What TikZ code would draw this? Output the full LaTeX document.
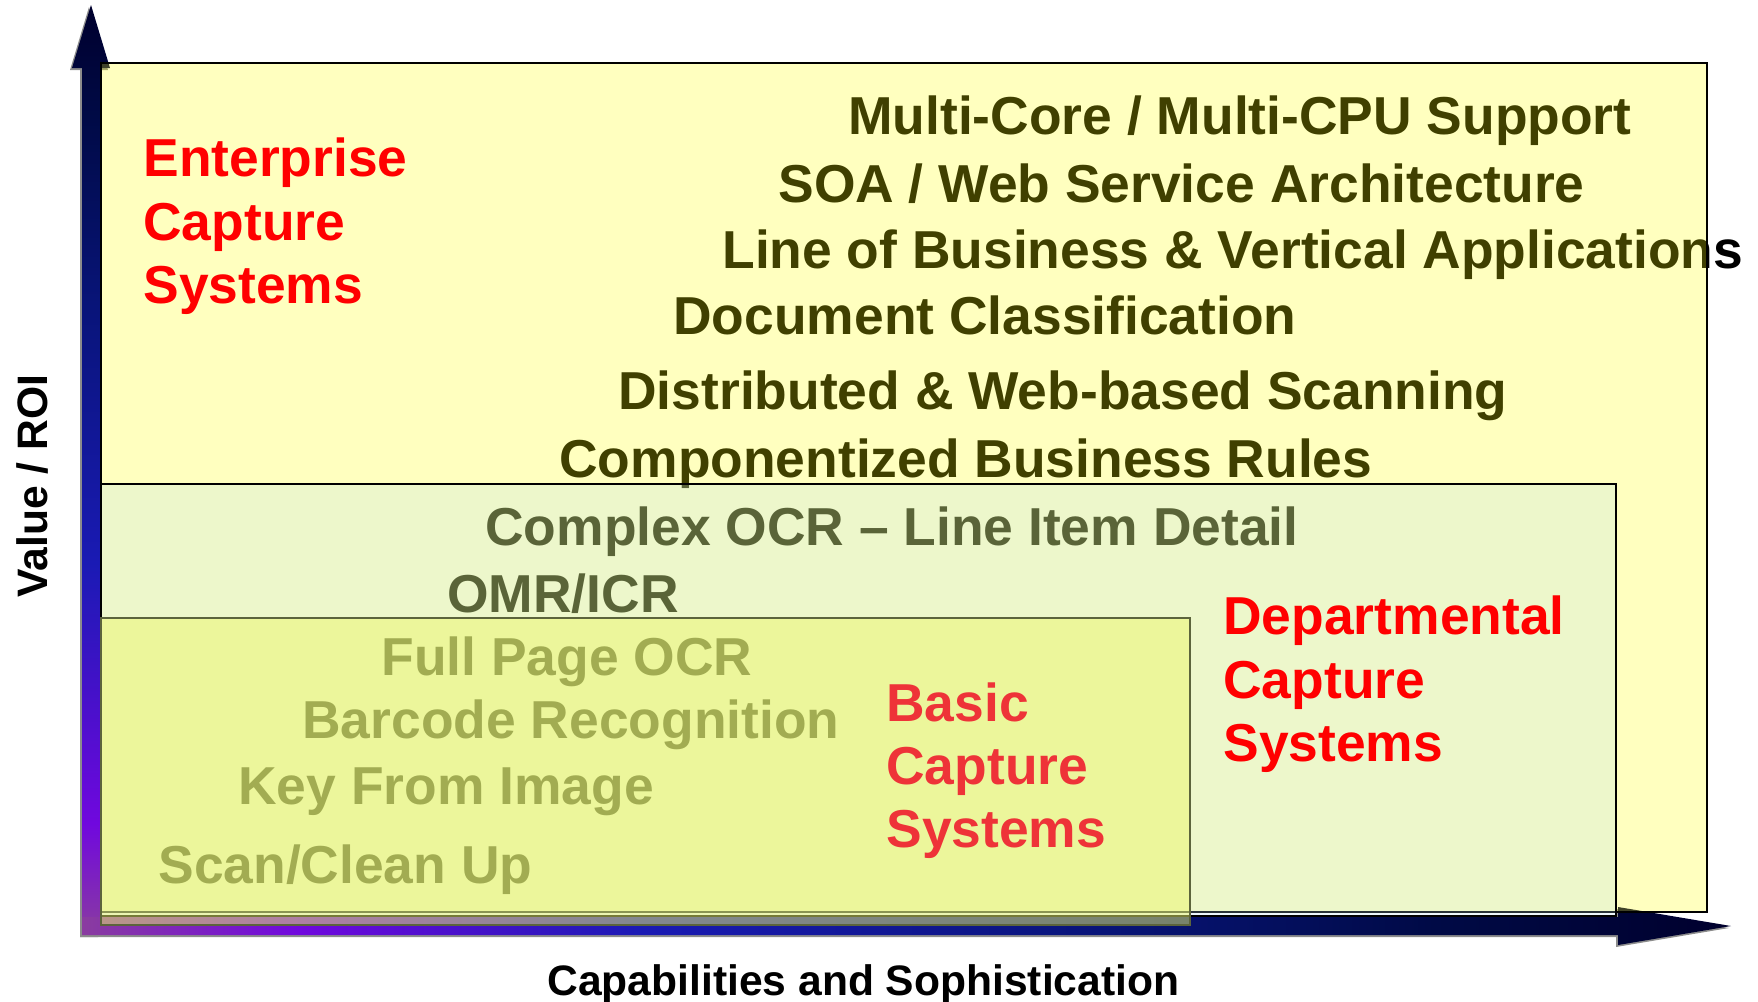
\documentclass[tikz,border=0pt]{standalone}
\usepackage{fontspec}
\setmainfont{Liberation Sans}
\definecolor{axpurple}{RGB}{138,60,160}
\definecolor{axviolet}{RGB}{112,8,222}
\definecolor{axblue}{RGB}{26,26,180}
\definecolor{axdeep}{RGB}{8,20,120}
\definecolor{axnavy}{RGB}{0,10,70}
\definecolor{axtip}{RGB}{0,0,45}
\definecolor{entbox}{RGB}{255,255,0}
\definecolor{depbox}{RGB}{178,222,243}
\definecolor{basbox}{RGB}{235,245,108}
\definecolor{basedge}{RGB}{92,100,60}
\definecolor{basred}{RGB}{238,51,56}
\pgfdeclarehorizontalshading{haxis}{100bp}{color(0bp)=(axpurple); color(25bp)=(axpurple); color(31.6bp)=(axviolet); color(42bp)=(axblue); color(56bp)=(axdeep); color(66bp)=(axnavy); color(75bp)=(axtip); color(100bp)=(axtip)}
\pgfdeclareverticalshading{vaxis}{100bp}{color(0bp)=(axpurple); color(25bp)=(axpurple); color(31bp)=(axviolet); color(45bp)=(axblue); color(59bp)=(axdeep); color(69bp)=(axnavy); color(75bp)=(axtip); color(100bp)=(axtip)}
\tikzset{
  feature/.style={anchor=base west,inner sep=0pt,font=\fontsize{26.7}{32}\selectfont\bfseries,text=black},
  capsys/.style={feature,text=red},
  axislabel/.style={inner sep=0pt,font=\fontsize{21.3}{26}\selectfont\bfseries},
  layer/.style={line width=0.75pt,draw=black},
  axshadow/.style={fill=black!45,shift={(-2,2)}},
}
\begin{document}
\begin{tikzpicture}[x=0.5pt,y=-0.5pt]
	\useasboundingbox (0,0) rectangle (1758,1002);
	% axes
	\fill[axshadow] (82,935) -- (82,68) -- (72,68) -- (91,5) -- (110,68) -- (100,68) -- (100,935) -- cycle;
	\shade[shading=vaxis] (82,935) -- (82,68) -- (72,68) -- (91,5) -- (110,68) -- (100,68) -- (100,935) -- cycle;
	\fill[axshadow] (82,917) -- (1618,917) -- (1618,907) -- (1731,926) -- (1618,945) -- (1618,935) -- (82,935) -- cycle;
	\shade[shading=haxis] (82,917) -- (1618,917) -- (1618,907) -- (1731,926) -- (1618,945) -- (1618,935) -- (82,935) -- cycle;

	% features, seen through the boxes
	\node[feature] (f1) at (848,134) {Multi-Core / Multi-CPU Support};
	\node[feature] (f2) at (778,202) {SOA / Web Service Architecture};
	\node[feature] (f3) at (722,268) {Line of Business \& Vertical Applications};
	\node[feature] (f4) at (673,334) {Document Classification};
	\node[feature] (f5) at (618,409) {Distributed \& Web-based Scanning};
	\node[feature] (f6) at (559,477) {Componentized Business Rules};
	\node[feature] (f7) at (485,545) {Complex OCR \textendash\ Line Item Detail};
	\node[feature] (f8) at (447,612) {OMR/ICR};
	\node[feature] (f9) at (381,675) {Full Page OCR};
	\node[feature] (f10) at (302,738) {Barcode Recognition};
	\node[feature] (f11) at (238,804) {Key From Image};
	\node[feature] (f12) at (158,883) {Scan/Clean Up};

	% boxes
	\filldraw[layer,fill=entbox,fill opacity=0.25] (101,63) rectangle (1707,912);
	\filldraw[layer,fill=depbox,fill opacity=0.23] (101,484) rectangle (1616,916);
	\filldraw[layer,draw=basedge,fill=basbox,fill opacity=0.5] (101,618) rectangle (1190,925);

	\node[capsys] (ent1) at (143,176) {Enterprise};
	\node[capsys] (ent2) at (143,240) {Capture};
	\node[capsys] (ent3) at (143,303) {Systems};
	\node[capsys] (dep1) at (1223,634) {Departmental};
	\node[capsys] (dep2) at (1223,698) {Capture};
	\node[capsys] (dep3) at (1223,761) {Systems};
	\node[capsys,text=basred] (bas1) at (886,721) {Basic};
	\node[capsys,text=basred] (bas2) at (886,784) {Capture};
	\node[capsys,text=basred] (bas3) at (886,847) {Systems};

	\node[axislabel,rotate=90,anchor=base] (vlab) at (47,486) {Value / ROI};
	\node[axislabel,anchor=base west] (hlab) at (547,995) {Capabilities and Sophistication};
\end{tikzpicture}
\end{document}
